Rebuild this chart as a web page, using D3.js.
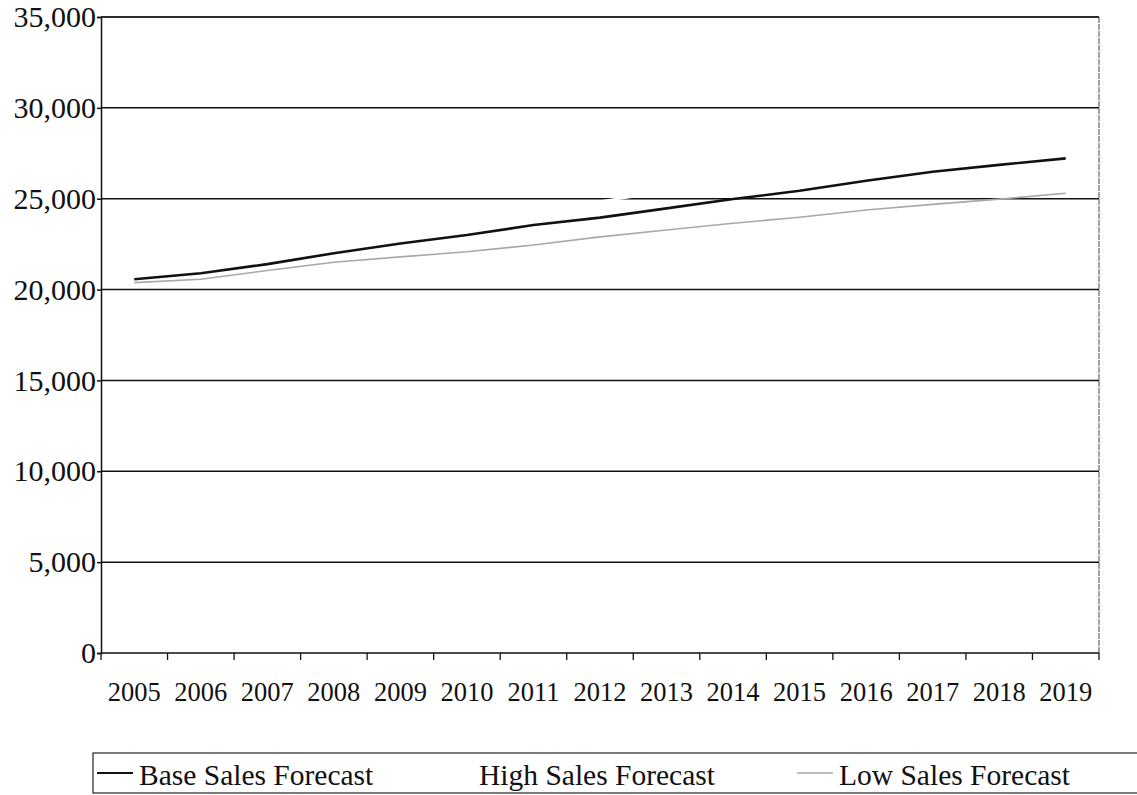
<!DOCTYPE html>
<html>
<head>
<meta charset="utf-8">
<script src="https://cdn.jsdelivr.net/npm/d3@7"></script>
<style>
  html, body { margin: 0; padding: 0; background: #fff; }
  svg { display: block; font-family: "Liberation Serif", "Times New Roman", serif; }
</style>
</head>
<body>
<svg id="chart" width="1137" height="795"></svg>
<script>
// Sales forecast scenarios by year
const years = ["2005","2006","2007","2008","2009","2010","2011","2012","2013","2014","2015","2016","2017","2018","2019"];
const baseSales = [20570, 20900, 21400, 22000, 22540, 23000, 23550, 23960, 24470, 24980, 25440, 25990, 26480, 26860, 27220];
const highSales = [20750, 21250, 21900, 22600, 23200, 23800, 24350, 24850, 25400, 25950, 26500, 27100, 27650, 28150, 28700];
const lowSales  = [20380, 20570, 21050, 21500, 21800, 22080, 22450, 22900, 23280, 23650, 23980, 24380, 24690, 24980, 25300];
const yTicks = [0, 5000, 10000, 15000, 20000, 25000, 30000, 35000];
const seriesNames = ["Base Sales Forecast", "High Sales Forecast", "Low Sales Forecast"];

const series = [
  { name: seriesNames[0], values: baseSales, color: "#111", width: 2.6 },
  { name: seriesNames[1], values: highSales, color: "#fff", width: 2.6 },
  { name: seriesNames[2], values: lowSales,  color: "#a8a8a8", width: 1.6 }
];

const svg = d3.select("#chart");
const plot = { left: 101, right: 1099, top: 17, bottom: 653 };

const x = d3.scaleBand().domain(years).range([plot.left, plot.right]);
const y = d3.scaleLinear().domain([0, 35000]).range([plot.bottom, plot.top]);
const fmt = d3.format(",");

// Horizontal gridlines
svg.append("g")
  .selectAll("line")
  .data(yTicks.filter(d => d > 0))
  .join("line")
  .attr("x1", plot.left).attr("x2", plot.right)
  .attr("y1", d => y(d)).attr("y2", d => y(d))
  .attr("stroke", "#111").attr("stroke-width", 1.5);

// Right border of the plot area
svg.append("line")
  .attr("x1", plot.right).attr("x2", plot.right)
  .attr("y1", plot.top).attr("y2", plot.bottom)
  .attr("stroke", "#666").attr("stroke-width", 1.2)
  .attr("stroke-dasharray", "6,1");

// Y axis
const yAxis = svg.append("g")
  .attr("transform", `translate(${plot.left},0)`)
  .call(d3.axisLeft(y).tickValues(yTicks).tickFormat(fmt).tickSize(4).tickPadding(1));
yAxis.select(".domain").attr("stroke", "#111").attr("stroke-width", 1.5);
yAxis.selectAll(".tick line").attr("stroke", "#111").attr("stroke-width", 1.5);
yAxis.selectAll(".tick text")
  .attr("font-family", "Liberation Serif, serif")
  .attr("font-size", 30)
  .attr("fill", "#111");

// X axis with ticks between categories
const xAxis = svg.append("g")
  .attr("transform", `translate(0,${plot.bottom})`);
xAxis.append("line")
  .attr("x1", plot.left).attr("x2", plot.right)
  .attr("y1", 0).attr("y2", 0)
  .attr("stroke", "#111").attr("stroke-width", 1.5);
const boundaries = years.map(d => x(d)).concat([x(years[years.length - 1]) + x.bandwidth()]);
xAxis.selectAll("line.tick")
  .data(boundaries)
  .join("line")
  .attr("class", "tick")
  .attr("x1", d => d).attr("x2", d => d)
  .attr("y1", 0).attr("y2", 7)
  .attr("stroke", "#111").attr("stroke-width", 1.3);
xAxis.selectAll("text")
  .data(years)
  .join("text")
  .attr("x", d => x(d) + x.bandwidth() / 2)
  .attr("y", 48)
  .attr("text-anchor", "middle")
  .attr("font-size", 26.5)
  .attr("fill", "#111")
  .text(d => d);

// Top frame line
svg.append("line")
  .attr("x1", plot.left).attr("x2", plot.right)
  .attr("y1", plot.top).attr("y2", plot.top)
  .attr("stroke", "#222").attr("stroke-width", 1.3);

// Series lines
const line = d3.line()
  .x((d, i) => x(years[i]) + x.bandwidth() / 2)
  .y(d => y(d));
svg.append("g")
  .selectAll("path")
  .data(series)
  .join("path")
  .attr("fill", "none")
  .attr("stroke", d => d.color)
  .attr("stroke-width", d => d.width)
  .attr("d", d => line(d.values));

// Legend
const legend = svg.append("g");
legend.append("rect")
  .attr("x", 93).attr("y", 753)
  .attr("width", 1060).attr("height", 40)
  .attr("fill", "none").attr("stroke", "#222").attr("stroke-width", 1.2);
const legendX = [97, 437, 797];
const items = legend.selectAll("g.item")
  .data(series)
  .join("g")
  .attr("class", "item")
  .attr("transform", (d, i) => `translate(${legendX[i]},0)`);
items.append("line")
  .attr("x1", 0).attr("x2", 36)
  .attr("y1", 773).attr("y2", 773)
  .attr("stroke", d => d.color)
  .attr("stroke-width", d => Math.min(d.width, 1.8));
items.append("text")
  .attr("x", 42).attr("y", 785)
  .attr("font-size", 29.5)
  .attr("fill", "#111")
  .text(d => d.name);
</script>
</body>
</html>
